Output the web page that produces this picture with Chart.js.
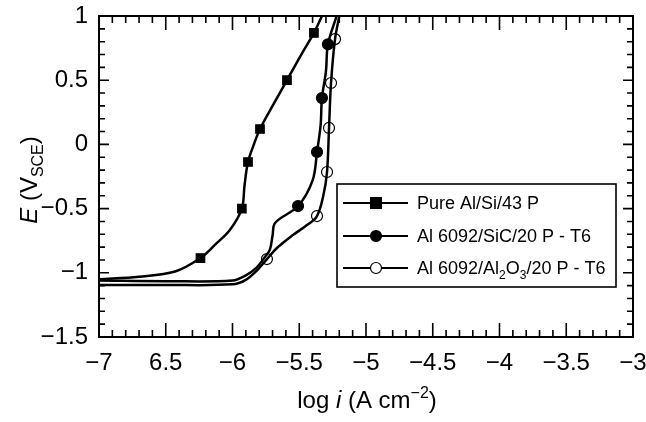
<!DOCTYPE html>
<html>
<head>
<meta charset="utf-8">
<script src="https://cdn.jsdelivr.net/npm/chart.js@4/dist/chart.umd.min.js"></script>
<style>
	html, body { margin: 0; padding: 0; background: #fff; }
	#wrap { width: 646px; height: 422px; }
</style>
</head>
<body>
<div id="wrap"><canvas id="chart" width="646" height="422"></canvas></div>
<script>
// curves (log i, E)
const pureX = [-7, -6.7, -6.43, -6.24, -6.13, -6.02, -5.93, -5.91, -5.884, -5.84, -5.794, -5.70, -5.592, -5.49, -5.39, -5.33];
const pureY = [-1.05, -1.03, -0.99, -0.885, -0.78, -0.667, -0.5, -0.32, -0.137, 0.0, 0.12, 0.3, 0.5, 0.69, 0.868, 1.0];
const sicX = [-7, -6.5, -6.0, -5.9, -5.82, -5.76, -5.72, -5.70, -5.68, -5.509, -5.40, -5.367, -5.34, -5.33, -5.30, -5.285, -5.22];
const sicY = [-1.06, -1.065, -1.06, -1.02, -0.96, -0.88, -0.82, -0.71, -0.61, -0.48, -0.28, -0.059, 0.15, 0.361, 0.57, 0.78, 1.0];
const aloX = [-7, -6.5, -6.0, -5.9, -5.82, -5.742, -5.667, -5.547, -5.442, -5.367, -5.32, -5.292, -5.277, -5.262, -5.232, -5.20];
const aloY = [-1.095, -1.095, -1.09, -1.055, -0.985, -0.893, -0.807, -0.706, -0.628, -0.558, -0.40, -0.215, 0.128, 0.478, 0.82, 1.0];

// marker positions
const pureMarkX = [-6.24, -5.93, -5.884, -5.794, -5.592, -5.39];
const pureMarkY = [-0.885, -0.5, -0.137, 0.12, 0.5, 0.868];
const sicMarkX = [-5.509, -5.367, -5.33, -5.285];
const sicMarkY = [-0.48, -0.059, 0.361, 0.78];
const aloMarkX = [-5.742, -5.367, -5.292, -5.277, -5.262, -5.232];
const aloMarkY = [-0.893, -0.558, -0.215, 0.128, 0.478, 0.82];

const xTickLabels = ['−7', '6.5', '−6', '−5.5', '−5', '−4.5', '−4', '−3.5', '−3'];
const yTickLabels = ['−1.5', '−1', '−0.5', '0', '0.5', '1'];
const legendLabels = ['Pure Al/Si/43 P', 'Al 6092/SiC/20 P - T6', 'Al 6092/Al2O3/20 P - T6'];

const FONT = "'Liberation Sans', Arial, sans-serif";

const pts = function(xs, ys) {
	return xs.map((x, i) => ({x: x, y: ys[i]}));
}

const curve = function(xs, ys) {
	return {
		type: 'line', data: pts(xs, ys), borderColor: '#000', borderWidth: 2.5,
		pointRadius: 0, tension: 0.35, fill: false
	};
}

const markers = function(xs, ys, style, fill, r) {
	return {
		type: 'scatter', data: pts(xs, ys), showLine: false, pointStyle: style,
		pointRadius: r, pointBackgroundColor: fill, pointBorderColor: '#000', pointBorderWidth: 1.2
	};
}

const drawMarker = function(ctx, kind, x, y) {
	ctx.save();
	ctx.lineWidth = 1.2;
	ctx.strokeStyle = '#000';
	if (kind == 0) {
		ctx.fillStyle = '#000';
		ctx.fillRect(x - 6, y - 6, 12, 12);
	} else {
		ctx.beginPath();
		ctx.arc(x, y, 5.5, 0, Math.PI * 2);
		ctx.fillStyle = kind == 1 ? '#000' : '#fff';
		ctx.fill();
		ctx.stroke();
	}
	ctx.restore();
}

// draws a run of [text, style] pieces; style: n normal, i italic, b sub, p sup
const drawRuns = function(ctx, runs, x, y, size, align) {
	const fontFor = s => (s == 'i' ? 'italic ' : '') + ((s == 'b' || s == 'p') ? Math.round(size * 0.68) : size) + 'px ' + FONT;
	let total = 0;
	for (let [t, s] of runs) { ctx.font = fontFor(s); total += ctx.measureText(t).width; }
	let cx = align == 'center' ? x - total / 2 : x;
	ctx.textAlign = 'left';
	ctx.textBaseline = 'alphabetic';
	for (let [t, s] of runs) {
		ctx.font = fontFor(s);
		const dy = s == 'b' ? size * 0.25 : s == 'p' ? -size * 0.42 : 0;
		ctx.fillText(t, cx, y + dy);
		cx += ctx.measureText(t).width;
	}
}

const framePlugin = {
	id: 'frame',
	afterDraw(chart) {
		const ctx = chart.ctx;
		const {left, right, top, bottom} = chart.chartArea;
		const xs = chart.scales.x, ys = chart.scales.y;
		ctx.save();
		ctx.strokeStyle = '#000';
		ctx.fillStyle = '#000';
		ctx.lineWidth = 2;
		ctx.strokeRect(left, top, right - left, bottom - top);

		// inward ticks on all four sides
		ctx.lineWidth = 1.6;
		ctx.beginPath();
		for (let i = 0; i <= 40; i++) {
			const px = xs.getPixelForValue(xs.min + i * 0.1);
			const len = i % 5 == 0 ? 14 : 7;
			ctx.moveTo(px, bottom); ctx.lineTo(px, bottom - len);
			ctx.moveTo(px, top); ctx.lineTo(px, top + len);
		}
		for (let i = 0; i <= 25; i++) {
			const py = ys.getPixelForValue(ys.min + i * 0.1);
			const len = i % 5 == 0 ? 10 : 6;
			ctx.moveTo(left, py); ctx.lineTo(left + len, py);
			ctx.moveTo(right, py); ctx.lineTo(right - len, py);
		}
		ctx.stroke();

		// legend
		ctx.fillStyle = '#fff';
		ctx.fillRect(337, 184, 279, 103);
		ctx.lineWidth = 1.6;
		ctx.strokeRect(337, 184, 279, 103);
		const rows = [203, 236, 268];
		ctx.fillStyle = '#000';
		rows.forEach((ry, k) => {
			ctx.beginPath();
			ctx.lineWidth = 1.8;
			ctx.moveTo(343, ry); ctx.lineTo(408, ry);
			ctx.stroke();
			drawMarker(ctx, k, 376, ry);
			ctx.fillStyle = '#000';
			if (k == 2) {
				drawRuns(ctx, [['Al 6092/Al', 'n'], ['2', 'b'], ['O', 'n'], ['3', 'b'], ['/20 P - T6', 'n']], 417, ry + 6, 18, 'left');
			} else {
				drawRuns(ctx, [[legendLabels[k], 'n']], 417, ry + 6, 18, 'left');
			}
		});

		// axis titles
		drawRuns(ctx, [['log ', 'n'], ['i', 'i'], [' (A cm', 'n'], ['−2', 'p'], [')', 'n']], 367, 408, 24, 'center');
		ctx.translate(37, 180);
		ctx.rotate(-Math.PI / 2);
		drawRuns(ctx, [['E', 'i'], [' (V', 'n'], ['SCE', 'b'], [')', 'n']], 0, 0, 24, 'center');
		ctx.restore();
	}
};

new Chart(document.getElementById('chart').getContext('2d'), {
	data: {
		datasets: [
			curve(pureX, pureY), curve(sicX, sicY), curve(aloX, aloY),
			markers(pureMarkX, pureMarkY, 'rect', '#000', 6),
			markers(sicMarkX, sicMarkY, 'circle', '#000', 5.5),
			markers(aloMarkX, aloMarkY, 'circle', '#fff', 5.5)
		]
	},
	options: {
		responsive: false,
		animation: false,
		events: [],
		layout: {padding: {top: 16, right: 13, left: 0, bottom: 0}},
		plugins: {legend: {display: false}, tooltip: {enabled: false}},
		scales: {
			x: {
				type: 'linear', min: -7, max: -3,
				grid: {display: false, drawTicks: false},
				border: {display: false},
				ticks: {
					stepSize: 0.5, autoSkip: false, maxRotation: 0, padding: 12,
					color: '#000', font: {family: FONT, size: 24},
					callback: (v, i) => xTickLabels[i]
				},
				afterFit: s => { s.height = 85; s.paddingLeft = 0; s.paddingRight = 0; }
			},
			y: {
				type: 'linear', min: -1.5, max: 1,
				grid: {display: false, drawTicks: false},
				border: {display: false},
				ticks: {
					stepSize: 0.5, autoSkip: false, padding: 11,
					color: '#000', font: {family: FONT, size: 24},
					callback: (v, i) => yTickLabels[i]
				},
				afterFit: s => { s.width = 99; s.paddingTop = 0; s.paddingBottom = 0; }
			}
		}
	},
	plugins: [framePlugin]
});
</script>
</body>
</html>
